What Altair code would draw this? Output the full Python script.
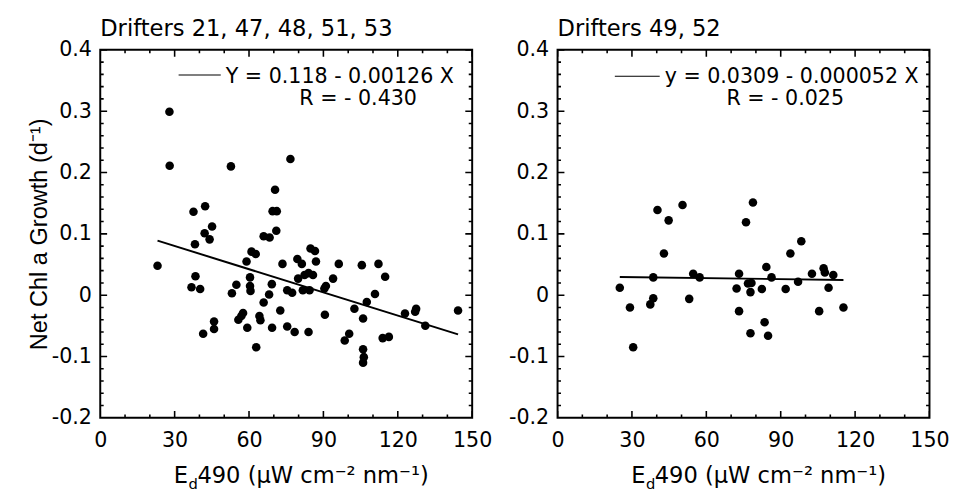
import altair as alt
import pandas as pd

# ---------------- data ----------------
left_x = [27.9, 28.0, 52.7, 76.7, 70.5, 37.6, 42.3, 69.5, 71.2,
          45.1, 42.1, 44.1, 38.2, 23.1, 65.9, 68.3, 71.0,
          61.0, 62.7, 59.0, 73.5, 79.5, 81.3, 84.8, 86.6, 87.0,
          96.2, 105.5, 112.2, 114.9, 38.4, 36.8, 40.3, 60.4, 60.4, 60.6,
          54.9, 53.1, 69.2, 68.1, 65.9, 79.8, 82.4, 84.0, 85.8,
          75.4, 77.4, 81.7, 84.4, 91.0, 90.4, 93.9, 107.5, 110.8,
          102.5, 106.0, 72.6, 90.6, 57.6, 56.9, 55.7, 64.2, 64.6,
          45.9, 45.9, 41.5, 59.3, 69.3, 75.4, 78.4, 84.0, 62.9,
          100.4, 98.6, 106.0, 106.3, 106.0, 113.9, 116.4, 122.9,
          127.0, 127.4, 131.1, 144.3]
left_y = [0.299, 0.211, 0.210, 0.222, 0.172, 0.136, 0.145, 0.137, 0.137,
          0.112, 0.101, 0.091, 0.083, 0.048, 0.096, 0.094, 0.105,
          0.071, 0.067, 0.055, 0.051, 0.059, 0.051, 0.076, 0.072, 0.055,
          0.051, 0.049, 0.051, 0.030, 0.031, 0.013, 0.010, 0.029, 0.015, 0.007,
          0.017, 0.003, 0.018, 0.001, -0.012, 0.027, 0.033, 0.036, 0.033,
          0.008, 0.004, 0.008, 0.008, 0.015, 0.011, 0.027, -0.011, 0.002,
          -0.022, -0.038, -0.025, -0.032, -0.029, -0.034, -0.040, -0.034, -0.041,
          -0.043, -0.055, -0.063, -0.053, -0.053, -0.051, -0.060, -0.060, -0.085,
          -0.063, -0.074, -0.088, -0.101, -0.110, -0.070, -0.068, -0.030,
          -0.027, -0.022, -0.050, -0.025]

right_x = [40.3, 50.4, 78.8, 44.8, 76.0, 42.9, 98.3, 93.9, 25.1,
           29.2, 30.5, 38.6, 38.6, 37.4, 54.7, 57.3, 53.1, 73.2,
           72.2, 73.2, 76.8, 78.2, 77.8, 82.4, 84.2, 86.3, 77.8,
           83.5, 84.9, 92.0, 97.0, 102.6, 107.3, 107.8, 111.2, 109.3,
           105.5, 115.3]
right_y = [0.139, 0.147, 0.151, 0.122, 0.119, 0.068, 0.088, 0.068, 0.012,
           -0.020, -0.085, 0.029, -0.005, -0.015, 0.035, 0.029, -0.006, 0.035,
           0.011, -0.026, 0.019, 0.020, 0.005, 0.010, 0.046, 0.029, -0.062,
           -0.044, -0.066, 0.010, 0.022, 0.035, 0.044, 0.037, 0.033, 0.012,
           -0.026, -0.020]

# regression coefficients (from the equations printed in the panels)
left_fit = [0.118, -0.00126]
right_fit = [0.0309, -0.000052]

titles = ["Drifters 21, 47, 48, 51, 53", "Drifters 49, 52"]
eq_line1 = ["Y = 0.118 - 0.00126 X", "y = 0.0309 - 0.000052 X"]
eq_line2 = ["R = - 0.430", "R = - 0.025"]
y_title = "Net Chl a Growth (d\u207b\u00b9)"
x_title_main = "490 (\u00b5W cm\u207b\u00b2 nm\u207b\u00b9)"

X_MAJOR = [0, 30, 60, 90, 120, 150]
X_MINOR = [10, 20, 40, 50, 70, 80, 100, 110, 130, 140]
Y_MAJOR = [-0.2, -0.1, 0.0, 0.1, 0.2, 0.3, 0.4]
Y_MINOR = [-0.18, -0.16, -0.14, -0.12, -0.08, -0.06, -0.04, -0.02,
           0.02, 0.04, 0.06, 0.08, 0.12, 0.14, 0.16, 0.18,
           0.22, 0.24, 0.26, 0.28, 0.32, 0.34, 0.36, 0.38]
X_EDGES = [0, 150]
Y_EDGES = [-0.2, 0.4]

# legend sample line / equation text anchors (data units)
leg_x = [[31.6, 48.6], [23.1, 41.2]]
leg_y = [0.359, 0.357]
eq1_x = [50.6, 43.2]
eq2_x = [80.3, 68.1]
eq1_y = 0.355
eq2_y = 0.319

W, H = 379, 375
FONT = "DejaVu Sans"


def tick_layer(vals, edges, along, length, xsc, ysc):
    rows = [(v, e) for v in vals for e in edges]
    if along == "x":
        df = pd.DataFrame({"x": [r[0] for r in rows], "y": [r[1] for r in rows]})
        orient = "vertical"
    else:
        df = pd.DataFrame({"y": [r[0] for r in rows], "x": [r[1] for r in rows]})
        orient = "horizontal"
    return alt.Chart(df).mark_tick(orient=orient, size=2 * length, thickness=1.6,
                                   color="black", opacity=1, clip=True).encode(
        x=alt.X("x:Q", scale=xsc, axis=None),
        y=alt.Y("y:Q", scale=ysc, axis=None),
    )


def make_panel(i, xs_, ys_, fit, show_ytitle):
    xsc = alt.Scale(domain=[0, 150], nice=False, zero=False)
    ysc = alt.Scale(domain=[-0.2, 0.4], nice=False, zero=False)
    pts_df = pd.DataFrame({"x": xs_, "y": ys_})
    x0, x1 = min(xs_), max(xs_)
    fit_df = pd.DataFrame({"x": [x0, x1],
                           "y": [fit[0] + fit[1] * x0, fit[0] + fit[1] * x1]})

    ax_bottom = alt.Axis(orient="bottom", values=X_MAJOR, ticks=False, domain=False,
                         grid=False, labelFont=FONT, labelFontSize=21,
                         labelColor="black", labelPadding=12, labelFlush=False,
                         labelOverlap=False)
    yax_kw = dict(orient="left", values=Y_MAJOR, ticks=False, domain=False, grid=False,
                  labelExpr="toString(round(datum.value*10)/10)",
                  labelFont=FONT, labelFontSize=21, labelColor="black",
                  labelPadding=9, labelFlush=False, labelOverlap=False)
    if show_ytitle:
        yax_kw.update(titleFont="Liberation Sans", titleFontSize=24,
                      titleFontWeight="normal", titleColor="black", titlePadding=0)
    ax_left = alt.Axis(**yax_kw)

    pts = alt.Chart(pts_df).mark_circle(size=76, color="black", opacity=1).encode(
        x=alt.X("x:Q", scale=xsc, axis=ax_bottom, title=None),
        y=alt.Y("y:Q", scale=ysc, axis=ax_left,
                title=y_title if show_ytitle else None),
    )

    line = alt.Chart(fit_df).mark_line(color="black", strokeWidth=2).encode(
        x=alt.X("x:Q", scale=xsc, axis=None),
        y=alt.Y("y:Q", scale=ysc, axis=None),
    )

    one = pd.DataFrame({"k": [0]})
    frame = alt.Chart(one).mark_rect(fill=None, stroke="black", strokeWidth=2).encode(
        x=alt.value(0), x2=alt.value(W), y=alt.value(0), y2=alt.value(H))

    ticks = [
        tick_layer(X_MAJOR, Y_EDGES, "x", 7, xsc, ysc),
        tick_layer(X_MINOR, Y_EDGES, "x", 3.5, xsc, ysc),
        tick_layer(Y_MAJOR, X_EDGES, "y", 7, xsc, ysc),
        tick_layer(Y_MINOR, X_EDGES, "y", 3.5, xsc, ysc),
    ]

    leg_df = pd.DataFrame({"x": leg_x[i], "y": [leg_y[i], leg_y[i]]})
    leg = alt.Chart(leg_df).mark_line(color="black", strokeWidth=1.2).encode(
        x=alt.X("x:Q", scale=xsc, axis=None),
        y=alt.Y("y:Q", scale=ysc, axis=None),
    )

    eq_df = pd.DataFrame({"x": [eq1_x[i], eq2_x[i]], "y": [eq1_y, eq2_y],
                          "t": [eq_line1[i], eq_line2[i]]})
    eq = alt.Chart(eq_df).mark_text(align="left", baseline="middle", font=FONT,
                                    fontSize=21, color="black").encode(
        x=alt.X("x:Q", scale=xsc, axis=None),
        y=alt.Y("y:Q", scale=ysc, axis=None),
        text="t:N",
    )

    ttl = alt.Chart(one).mark_text(align="left", baseline="alphabetic", font=FONT,
                                   fontSize=23, color="black").encode(
        x=alt.value(0), y=alt.value(-14), text=alt.value(titles[i]))

    xt_e = alt.Chart(one).mark_text(align="left", baseline="alphabetic", font=FONT,
                                    fontSize=23, color="black").encode(
        x=alt.value(75), y=alt.value(H + 66), text=alt.value("E"))
    xt_d = alt.Chart(one).mark_text(align="left", baseline="alphabetic", font=FONT,
                                    fontSize=15, color="black").encode(
        x=alt.value(90), y=alt.value(H + 72), text=alt.value("d"))
    xt_m = alt.Chart(one).mark_text(align="left", baseline="alphabetic", font=FONT,
                                    fontSize=23, color="black").encode(
        x=alt.value(99), y=alt.value(H + 66), text=alt.value(x_title_main))

    return alt.layer(pts, line, frame, *ticks, leg, eq, ttl, xt_e, xt_d, xt_m).resolve_axis(
        x="independent", y="independent"
    ).properties(width=W, height=H)


left = make_panel(0, left_x, left_y, left_fit, True)
right = make_panel(1, right_x, right_y, right_fit, False)

chart = alt.hconcat(left, right, spacing=16).properties(
    padding={"left": 20, "top": 6, "right": 5, "bottom": 0},
    background="white",
).configure_view(stroke=None)

chart.save("out.html", embed_options={"renderer": "svg", "actions": False})
